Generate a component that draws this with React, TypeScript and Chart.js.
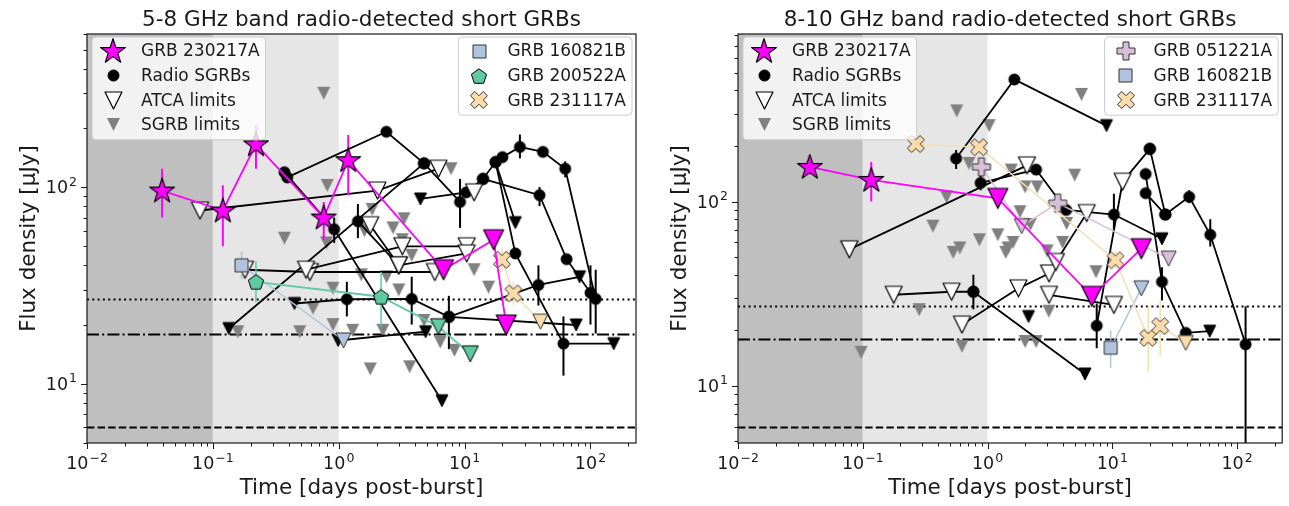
import React, { useEffect, useRef } from 'react';
import { Chart, registerables } from 'chart.js';
Chart.register(...registerables);

// ---------- axis ranges & ticks ----------
const X_RANGE = [0.01, 230];
const Y_RANGE_LEFT = [5, 600];
const Y_RANGE_RIGHT = [4.9, 810];
const X_DECADES = [-2, -1, 0, 1, 2];
const Y_DECADES = [1, 2];
const BAND_EDGES = [0.01, 0.1, 1];
const REF_LEVELS = [27, 18, 6]; // dotted, dash-dot, dashed

const TITLE_LEFT = '5-8 GHz band radio-detected short GRBs';
const TITLE_RIGHT = '8-10 GHz band radio-detected short GRBs';
const X_LABEL = 'Time [days post-burst]';
const Y_LABEL = 'Flux density [\u03bcJy]';

// point: [time (d), flux (uJy), kind d=detection u=limit a=ATCA limit, errLo, errHi]
type Pt = [number, number, string, number?, number?];
type P2 = [number, number];

// ---------- LEFT PANEL (5-8 GHz) ----------
const L_230217A: Pt[] = [
  [0.0395, 96, 'd', 70, 124], [0.12, 76, 'd', 50, 102], [0.22, 165, 'd', 124, 207],
  [0.76, 70, 'd', 54, 84], [1.19, 137, 'd', 91, 184],
  [6.8, 38, 'u'], [17, 54, 'u'], [21.4, 19.9, 'u'],
];
const L_160821B: Pt[] = [[0.169, 40, 'd', 34, 47], [1.09, 16.6, 'u']];
const L_200522A: Pt[] = [[0.22, 33, 'd', 26, 42], [2.17, 27.7, 'd', 19.5, 37], [6.2, 19.5, 'u'], [11.1, 14.2, 'u']];
const L_231117A: Pt[] = [[19.8, 42.7, 'd', 37, 49], [24.4, 28.8, 'd', 25, 33], [40, 20.7, 'u']];

const L_RADIO_1: Pt[] = [[0.39, 112, 'd'], [2.39, 191, 'd'], [4.76, 132, 'd'], [9.2, 84, 'd', 62, 110]];
const L_RADIO_2: Pt[] = [[0.37, 119, 'd'], [0.92, 61, 'd', 52, 70], [6.6, 8.2, 'u']];
const L_RADIO_3: Pt[] = [[0.134, 19.1, 'u'], [4.76, 132, 'd']];
const L_RADIO_4: Pt[] = [[4.46, 87, 'u'], [10.3, 94, 'd'], [14, 110, 'd'], [17.6, 134, 'd'], [25.3, 46, 'd'], [61, 16, 'd', 11, 22], [153, 16, 'u']];
const L_RADIO_5: Pt[] = [[20, 142, 'd'], [27.5, 160, 'd', 140, 185], [41.9, 151, 'd'], [63, 124, 'd', 112, 135], [110, 27, 'd', 18, 38]];
const L_RADIO_6: Pt[] = [[14, 110, 'd'], [39.4, 91, 'd', 80, 100], [64.6, 43, 'd'], [100, 29, 'd', 20, 40]];
const L_RADIO_7: Pt[] = [[0.445, 25.6, 'u'], [1.16, 26.9, 'd', 22, 33], [3.8, 27, 'd', 20, 35], [7.5, 21.9, 'd', 15, 28], [77, 19.9, 'u']];
const L_RADIO_8: Pt[] = [[0.99, 16.6, 'u'], [4.9, 18.4, 'u']];
const L_RADIO_9: Pt[] = [[7.5, 21.9, 'd'], [38.6, 31.8, 'd', 25, 40], [82, 35, 'u']];
const L_RADIO_10: Pt[] = [[17.6, 134, 'd'], [25.3, 66, 'u']];
const L_RADIO_11: Pt[] = [[1.42, 67, 'd', 55, 82], [3.0, 40, 'a']];
const L_ATCA_1: Pt[] = [[0.079, 76, 'a'], [2.03, 96, 'a'], [6.2, 124, 'a']];
const L_ATCA_2: Pt[] = [[0.18, 38, 'a'], [0.59, 37, 'a'], [5.8, 37, 'a']];
const L_ATCA_3: Pt[] = [[0.55, 38, 'a'], [3.2, 50, 'a'], [10.4, 50, 'a']];
const L_ATCA_4: Pt[] = [[1.78, 64, 'a'], [3.0, 40, 'a'], [10.4, 46, 'a']];
const L_ATCA_5: Pt[] = [[11.9, 94, 'a']];

const L_SGRB_LIM: P2[] = [
  [0.76, 300], [0.81, 102], [1.84, 77], [7.8, 124], [3.3, 69], [0.37, 55], [0.8, 52],
  [1.51, 35.8], [2.4, 35], [0.9, 30.6], [0.625, 24.2], [0.9, 20], [0.49, 18.4], [0.158, 18.4],
  [1.29, 18.7], [2.24, 18.7], [4.76, 21], [6.4, 16.3], [8.3, 14.8], [1.78, 11.9], [3.66, 12.2],
  [11.9, 38], [15.5, 31], [3.2, 54], [3.8, 45], [2.7, 62], [1.6, 60], [3.0, 30],
];

// ---------- RIGHT PANEL (8-10 GHz) ----------
const R_230217A: Pt[] = [
  [0.0376, 154, 'd', 140, 168], [0.117, 131, 'd', 100, 164],
  [1.21, 104, 'u'], [6.85, 30.6, 'u'], [17.1, 55.5, 'u'],
];
const R_051221A: Pt[] = [[0.893, 154, 'd', 140, 170], [1.88, 73.5, 'u'], [3.65, 98, 'd', 90, 106], [28.3, 49, 'u']];
const R_160821B: Pt[] = [[9.7, 16.1, 'd', 12.5, 20], [17.1, 33.8, 'u']];
const R_231117A: Pt[] = [[0.266, 205, 'd'], [0.855, 197, 'd'], [10.6, 48, 'd', 43, 54], [19.4, 18.2, 'd', 12, 27], [24.2, 21.1, 'd', 14.5, 29], [38.8, 17.1, 'u']];

const R_RADIO_1: Pt[] = [[0.56, 171, 'd', 150, 190], [1.64, 459, 'd'], [8.98, 258, 'u']];
const R_RADIO_2: Pt[] = [[0.88, 126, 'd', 115, 140], [2.45, 149, 'd'], [4.27, 90, 'd'], [10.3, 85, 'd', 70, 110], [25, 62.8, 'u']];
const R_RADIO_3: Pt[] = [[20, 193, 'd'], [26.6, 85, 'd'], [41.3, 106, 'd', 98, 115], [61, 66, 'd', 57, 80], [117, 16.8, 'd', 4, 27]];
const R_RADIO_4: Pt[] = [[18.5, 141, 'd'], [25, 36.7, 'd', 29, 44], [38.8, 19.4, 'd'], [60.4, 19.8, 'u']];
const R_RADIO_5: Pt[] = [[18.5, 111, 'd'], [26.6, 85, 'd']];
const R_RADIO_6: Pt[] = [[0.77, 32.4, 'd', 26, 40], [6.04, 11.6, 'u']];
const R_RADIO_7: Pt[] = [[7.5, 21.2, 'd', 16, 28], [12.1, 128, 'a'], [20, 193, 'd']];
const R_RADIO_8: Pt[] = [[2.13, 23.8, 'u']];
const R_ATCA_1: Pt[] = [[0.078, 55, 'a'], [2.07, 157, 'a']];
const R_ATCA_2: Pt[] = [[0.177, 31.2, 'a'], [0.515, 32.4, 'a'], [0.77, 32.4, 'd']];
const R_ATCA_3: Pt[] = [[0.624, 21.5, 'a'], [1.77, 33.8, 'a'], [3.11, 40.7, 'a']];
const R_ATCA_4: Pt[] = [[3.11, 31.2, 'a'], [10.3, 27.5, 'a']];
const R_ATCA_5: Pt[] = [[3.53, 47, 'a'], [6.24, 86.5, 'a']];

const R_SGRB_LIM: P2[] = [
  [0.566, 310], [5.66, 381], [1.03, 258], [0.469, 106], [0.365, 73.5], [0.71, 161], [1.55, 148],
  [1.82, 88], [2.0, 120], [2.5, 120], [5.0, 139], [4.3, 76], [0.86, 62], [1.21, 66], [1.46, 56],
  [0.53, 53], [0.6, 56], [1.6, 60], [1.4, 53], [0.283, 25.9], [3.1, 25.4], [7.4, 41.6],
  [0.624, 16.4], [2.0, 17.4], [2.45, 17.4], [0.097, 15.2], [3.0, 54], [2.2, 75], [4.0, 60],
];

// ---------- styling ----------
const FONT = '"DejaVu Sans", sans-serif';

function makeMarker(shape: string, size: number, fill: string, stroke: string | null, lw: number) {
  const pad = Math.ceil(lw) + 2;
  const dim = Math.ceil(size + 2 * pad);
  const c = document.createElement('canvas');
  c.width = dim; c.height = dim;
  const ctx = c.getContext('2d')!;
  ctx.translate(dim / 2, dim / 2);
  const r = size / 2;
  const poly = (pts: number[][]) => { ctx.beginPath(); pts.forEach((p, i) => (i ? ctx.lineTo(p[0], p[1]) : ctx.moveTo(p[0], p[1]))); ctx.closePath(); };
  if (shape === 'circle') { ctx.beginPath(); ctx.arc(0, 0, r, 0, Math.PI * 2); }
  else if (shape === 'star') {
    const pts: number[][] = [];
    for (let i = 0; i < 10; i++) { const rr = i % 2 === 0 ? r : r * 0.382; const a = -Math.PI / 2 + i * Math.PI / 5; pts.push([rr * Math.cos(a), rr * Math.sin(a) + r * 0.05]); }
    poly(pts);
  } else if (shape === 'tri') poly([[-r, -r], [r, -r], [0, r]]);
  else if (shape === 'square') poly([[-r, -r], [r, -r], [r, r], [-r, r]]);
  else if (shape === 'pentagon') {
    const pts: number[][] = [];
    for (let i = 0; i < 5; i++) { const a = -Math.PI / 2 + i * 2 * Math.PI / 5; pts.push([r * Math.cos(a), r * Math.sin(a) + r * 0.1]); }
    poly(pts);
  } else if (shape === 'plus' || shape === 'x') {
    const w = r / 3;
    let pts = [[-w, -r], [w, -r], [w, -w], [r, -w], [r, w], [w, w], [w, r], [-w, r], [-w, w], [-r, w], [-r, -w], [-w, -w]];
    if (shape === 'x') { const k = Math.SQRT1_2; pts = pts.map(([x, y]) => [(x - y) * k, (x + y) * k]); }
    poly(pts);
  }
  ctx.fillStyle = fill; ctx.fill();
  if (stroke) { ctx.lineWidth = lw; ctx.strokeStyle = stroke; ctx.lineJoin = 'round'; ctx.stroke(); }
  return c;
}

function makeMarkers() {
  return {
    star: makeMarker('star', 26, '#ff00ff', '#000', 1.2),
    magTri: makeMarker('tri', 20, '#ff00ff', '#000', 1.2),
    circle: makeMarker('circle', 11, '#000', '#000', 1),
    blackTri: makeMarker('tri', 12, '#000', '#000', 1),
    atca: makeMarker('tri', 17, '#fff', '#000', 1.2),
    gray: makeMarker('tri', 13, '#808080', null, 0),
    blueSq: makeMarker('square', 13, '#b0c4de', '#333', 1),
    blueTri: makeMarker('tri', 15, '#b0c4de', '#333', 1),
    greenPent: makeMarker('pentagon', 16, '#5fc9a2', '#000', 1),
    greenTri: makeMarker('tri', 16, '#5fc9a2', '#000', 1),
    tanX: makeMarker('x', 18, '#fcdcaa', '#333', 1),
    tanTri: makeMarker('tri', 15, '#fcdcaa', '#333', 1),
    lilacPlus: makeMarker('plus', 18, '#d8bfd8', '#333', 1),
    lilacTri: makeMarker('tri', 15, '#d8bfd8', '#333', 1),
  } as Record<string, HTMLCanvasElement>;
}

const STYLES: Record<string, any> = {
  radio: { line: '#000', lw: 1.8, err: '#000', ew: 2, d: 'circle', u: 'blackTri', a: 'atca' },
  g230217A: { line: '#ff00ff', lw: 1.8, err: '#ff00ff', ew: 2, d: 'star', u: 'magTri' },
  g160821B: { line: '#b0c4de', lw: 1.5, err: '#b0c4de', ew: 1.5, d: 'blueSq', u: 'blueTri' },
  g200522A: { line: '#5fc9a2', lw: 1.8, err: '#5fc9a2', ew: 1.5, d: 'greenPent', u: 'greenTri' },
  g231117A: { line: '#f5deb3', lw: 1.5, err: '#f5deb3', ew: 1.5, d: 'tanX', u: 'tanTri' },
  g051221A: { line: '#d8bfd8', lw: 1.5, err: '#d8bfd8', ew: 1.5, d: 'lilacPlus', u: 'lilacTri' },
};

const LEFT_DEF = {
  title: TITLE_LEFT, yRange: Y_RANGE_LEFT,
  gray: L_SGRB_LIM,
  tracks: [L_RADIO_1, L_RADIO_2, L_RADIO_3, L_RADIO_4, L_RADIO_5, L_RADIO_6, L_RADIO_7, L_RADIO_8, L_RADIO_9, L_RADIO_10, L_RADIO_11, L_ATCA_1, L_ATCA_2, L_ATCA_3, L_ATCA_4, L_ATCA_5],
  specials: [[L_160821B, 'g160821B'], [L_200522A, 'g200522A'], [L_231117A, 'g231117A']] as [Pt[], string][],
  star: L_230217A,
  legend2: [['blueSq', 'GRB 160821B'], ['greenPent', 'GRB 200522A'], ['tanX', 'GRB 231117A']],
  padding: { left: 87, right: 9, top: 34, bottom: 63 },
};
const RIGHT_DEF = {
  title: TITLE_RIGHT, yRange: Y_RANGE_RIGHT,
  gray: R_SGRB_LIM,
  tracks: [R_RADIO_1, R_RADIO_2, R_RADIO_3, R_RADIO_4, R_RADIO_5, R_RADIO_6, R_RADIO_7, R_RADIO_8, R_ATCA_1, R_ATCA_2, R_ATCA_3, R_ATCA_4, R_ATCA_5],
  specials: [[R_051221A, 'g051221A'], [R_160821B, 'g160821B'], [R_231117A, 'g231117A']] as [Pt[], string][],
  star: R_230217A,
  legend2: [['lilacPlus', 'GRB 051221A'], ['blueSq', 'GRB 160821B'], ['tanX', 'GRB 231117A']],
  padding: { left: 93, right: 4, top: 34, bottom: 63 },
};
const LEGEND1 = [['star', 'GRB 230217A'], ['circle', 'Radio SGRBs'], ['atca', 'ATCA limits'], ['gray', 'SGRB limits']];

function trackDataset(pts: Pt[], styleKey: string, M: Record<string, HTMLCanvasElement>, order: number) {
  const s = STYLES[styleKey];
  return {
    data: pts.map(p => ({ x: p[0], y: p[1] })),
    showLine: true,
    borderColor: s.line,
    borderWidth: s.lw,
    pointStyle: pts.map(p => M[s[p[2]]]),
    pointRadius: 5,
    pointHoverRadius: 5,
    order,
    errBars: pts.filter(p => p.length >= 5).map(p => [p[0], p[3], p[4]]),
    errColor: s.err,
    errWidth: s.ew,
  };
}

function supLabel(ctx: CanvasRenderingContext2D, exp: number, x: number, yMid: number, align: string) {
  const base = 17.5, sup = 12.5;
  const e = exp < 0 ? '\u2212' + Math.abs(exp) : String(exp);
  ctx.font = `${base}px ${FONT}`;
  const w1 = ctx.measureText('10').width;
  ctx.font = `${sup}px ${FONT}`;
  const w2 = ctx.measureText(e).width;
  const total = w1 + w2 + 1;
  const start = align === 'center' ? x - total / 2 : x - total;
  const baseY = yMid + base * 0.365;
  ctx.textAlign = 'left';
  ctx.textBaseline = 'alphabetic';
  ctx.font = `${base}px ${FONT}`;
  ctx.fillText('10', start, baseY);
  ctx.font = `${sup}px ${FONT}`;
  ctx.fillText(e, start + w1 + 1, baseY - base * 0.45);
}

function drawLegend(ctx: CanvasRenderingContext2D, M: Record<string, HTMLCanvasElement>, entries: string[][], left: number | null, right: number | null, top: number) {
  ctx.font = `17px ${FONT}`;
  const tw = Math.max(...entries.map(e => ctx.measureText(e[1]).width));
  const w = 49 + tw + 6;
  const pitch = 24.6;
  const h = 14 + pitch * (entries.length - 1) + 15;
  const x0 = left !== null ? left : (right as number) - w;
  ctx.save();
  ctx.beginPath();
  if ((ctx as any).roundRect) (ctx as any).roundRect(x0, top, w, h, 4); else ctx.rect(x0, top, w, h);
  ctx.fillStyle = 'rgba(255,255,255,0.8)';
  ctx.fill();
  ctx.strokeStyle = '#cccccc';
  ctx.lineWidth = 1;
  ctx.stroke();
  entries.forEach((e, i) => {
    const cy = top + 14 + i * pitch;
    const img = M[e[0]];
    ctx.drawImage(img, Math.round(x0 + 21 - img.width / 2), Math.round(cy - img.height / 2));
    ctx.fillStyle = '#1a1a1a';
    ctx.font = `17px ${FONT}`;
    ctx.textAlign = 'left';
    ctx.textBaseline = 'middle';
    ctx.fillText(e[1], x0 + 49, cy + 1);
  });
  ctx.restore();
}

function makePlugin(def: any, M: Record<string, HTMLCanvasElement>) {
  return {
    id: 'panelDecor',
    beforeDatasetsDraw(chart: any) {
      const { ctx, chartArea: a, scales } = chart;
      const xs = scales.x, ys = scales.y;
      ctx.save();
      const x1 = xs.getPixelForValue(BAND_EDGES[0]);
      const x2 = xs.getPixelForValue(BAND_EDGES[1]);
      const x3 = xs.getPixelForValue(BAND_EDGES[2]);
      ctx.fillStyle = '#bfbfbf';
      ctx.fillRect(x1, a.top, x2 - x1, a.bottom - a.top);
      ctx.fillStyle = '#e6e6e6';
      ctx.fillRect(x2, a.top, x3 - x2, a.bottom - a.top);
      const dashes = [[2, 3.3], [12, 3.2, 2, 3.2], [7.4, 3.2]];
      REF_LEVELS.forEach((v, i) => {
        const py = Math.round(ys.getPixelForValue(v)) + 0.5;
        ctx.setLineDash(dashes[i]);
        ctx.lineWidth = 2;
        ctx.strokeStyle = '#000';
        ctx.beginPath();
        ctx.moveTo(a.left, py);
        ctx.lineTo(a.right, py);
        ctx.stroke();
      });
      ctx.restore();
    },
    beforeDatasetDraw(chart: any, args: any) {
      const ds = chart.data.datasets[args.index];
      if (!ds.errBars || !ds.errBars.length) return;
      const { ctx, chartArea: a, scales } = chart;
      ctx.save();
      ctx.beginPath();
      ctx.rect(a.left, a.top, a.right - a.left, a.bottom - a.top);
      ctx.clip();
      ctx.strokeStyle = ds.errColor;
      ctx.lineWidth = ds.errWidth;
      ds.errBars.forEach((e: number[]) => {
        const px = scales.x.getPixelForValue(e[0]);
        ctx.beginPath();
        ctx.moveTo(px, scales.y.getPixelForValue(e[1]));
        ctx.lineTo(px, scales.y.getPixelForValue(e[2]));
        ctx.stroke();
      });
      ctx.restore();
    },
    afterDraw(chart: any) {
      const { ctx, chartArea: a, scales } = chart;
      const xs = scales.x, ys = scales.y;
      ctx.save();
      drawLegend(ctx, M, LEGEND1, a.left + 5, null, a.top + 3);
      drawLegend(ctx, M, def.legend2, null, a.right - 4, a.top + 3);
      ctx.strokeStyle = '#1a1a1a';
      ctx.lineWidth = 1.2;
      ctx.strokeRect(a.left, a.top, a.right - a.left, a.bottom - a.top);
      ctx.lineWidth = 1;
      for (let d = -3; d <= 3; d++) {
        for (let m = 1; m <= 9; m++) {
          const v = m * Math.pow(10, d);
          const len = m === 1 ? 6 : 3.5;
          if (v >= X_RANGE[0] && v <= X_RANGE[1]) {
            const px = Math.round(xs.getPixelForValue(v)) + 0.5;
            ctx.beginPath(); ctx.moveTo(px, a.bottom); ctx.lineTo(px, a.bottom + len); ctx.stroke();
          }
          if (v >= def.yRange[0] && v <= def.yRange[1]) {
            const py = Math.round(ys.getPixelForValue(v)) + 0.5;
            ctx.beginPath(); ctx.moveTo(a.left, py); ctx.lineTo(a.left - len, py); ctx.stroke();
          }
        }
      }
      ctx.fillStyle = '#1a1a1a';
      X_DECADES.forEach(d => supLabel(ctx, d, xs.getPixelForValue(Math.pow(10, d)), a.bottom + 20, 'center'));
      Y_DECADES.forEach(d => supLabel(ctx, d, a.left - 10, ys.getPixelForValue(Math.pow(10, d)), 'right'));
      ctx.font = `21.5px ${FONT}`;
      ctx.textAlign = 'center';
      ctx.textBaseline = 'alphabetic';
      ctx.fillText(X_LABEL, (a.left + a.right) / 2, a.bottom + 51);
      ctx.fillText(def.title, (a.left + a.right) / 2, a.top - 8);
      ctx.save();
      ctx.translate(a.left - 52, (a.top + a.bottom) / 2);
      ctx.rotate(-Math.PI / 2);
      ctx.textBaseline = 'alphabetic';
      ctx.fillText(Y_LABEL, 0, 0);
      ctx.restore();
      ctx.restore();
    },
  };
}

function buildChart(canvas: HTMLCanvasElement, def: any) {
  const M = makeMarkers();
  const datasets: any[] = [];
  datasets.push({
    data: def.gray.map((p: P2) => ({ x: p[0], y: p[1] })),
    showLine: false,
    pointStyle: M.gray,
    pointRadius: 5,
    order: 100,
  });
  def.tracks.forEach((pts: Pt[], i: number) => datasets.push(trackDataset(pts, 'radio', M, 60 - i)));
  def.specials.forEach((sp: [Pt[], string], i: number) => datasets.push(trackDataset(sp[0], sp[1], M, 10 - i)));
  datasets.push(trackDataset(def.star, 'g230217A', M, 0));
  return new Chart(canvas, {
    type: 'scatter',
    data: { datasets },
    options: {
      animation: false,
      responsive: false,
      devicePixelRatio: 1,
      events: [],
      layout: { padding: def.padding },
      elements: { line: { tension: 0 } },
      scales: {
        x: { type: 'logarithmic', min: X_RANGE[0], max: X_RANGE[1], display: false },
        y: { type: 'logarithmic', min: def.yRange[0], max: def.yRange[1], display: false },
      },
      plugins: { legend: { display: false }, tooltip: { enabled: false }, title: { display: false } },
    } as any,
    plugins: [makePlugin(def, M)],
  });
}

export default function App() {
  const leftRef = useRef<HTMLCanvasElement>(null);
  const rightRef = useRef<HTMLCanvasElement>(null);
  useEffect(() => {
    const c1 = buildChart(leftRef.current!, LEFT_DEF);
    const c2 = buildChart(rightRef.current!, RIGHT_DEF);
    return () => { c1.destroy(); c2.destroy(); };
  }, []);
  return (
    <div style={{ position: 'fixed', left: 0, top: 0, width: 1289, height: 506, background: '#fff' }}>
      <canvas ref={leftRef} width={645} height={506} style={{ position: 'absolute', left: 0, top: 0, width: 645, height: 506 }} />
      <canvas ref={rightRef} width={644} height={506} style={{ position: 'absolute', left: 645, top: 0, width: 644, height: 506 }} />
    </div>
  );
}
